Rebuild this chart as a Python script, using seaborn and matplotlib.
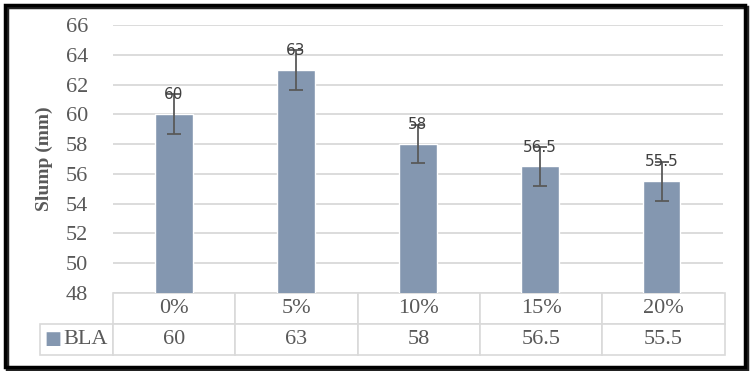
import matplotlib.pyplot as plt
import seaborn as sns
import pandas as pd
from matplotlib.patches import Rectangle

# chart data
categories = ['0%', '5%', '10%', '15%', '20%']
slump = [60, 63, 58, 56.5, 55.5]
errors = [1.35, 1.35, 1.3, 1.3, 1.3]
series_name = 'BLA'

bar_color = '#8497B0'
text_gray = '#595959'
grid_gray = '#D9D9D9'

sns.set_style('white')
plt.rcParams['font.family'] = ['Liberation Serif', 'DejaVu Sans']

W, H = 750, 371
fig = plt.figure(figsize=(7.5, 3.71), dpi=100)
ax = fig.add_axes([113 / W, 78 / H, 609.5 / W, 268 / H])

df = pd.DataFrame({'cat': categories, 'val': slump})
sns.barplot(data=df, x='cat', y='val', color=bar_color, width=0.31,
            saturation=1, errorbar=None, ax=ax, zorder=2)
ax.errorbar(range(len(categories)), slump, yerr=errors, fmt='none',
            ecolor=text_gray, elinewidth=1.3, capsize=5, capthick=1.3, zorder=3)

# value labels
for i, v in enumerate(slump):
    ax.annotate(f'{v:g}', (i, v), xytext=(0, 14), textcoords='offset points',
                ha='center', va='center', fontsize=11, family='DejaVu Sans',
                color='#404040', zorder=4)

ax.set_xlim(-0.5, len(categories) - 0.5)
ax.set_ylim(48, 66)
ax.set_yticks(range(48, 67, 2))
ax.set_xticks([])
ax.grid(axis='y', color=grid_gray, lw=1.3)
ax.set_axisbelow(True)
ax.tick_params(axis='y', length=0, pad=18, labelsize=16, labelcolor=text_gray)
ax.set_xlabel('')
ax.set_ylabel('Slump (mm)', fontweight='bold', fontsize=14, color=text_gray)
ax.yaxis.set_label_coords((53 - 113) / 609.5, 0.5)
sns.despine(ax=ax, left=True, bottom=True)

# data table under the chart
cell_text = [[''] + categories, [''] + [f'{v:g}' for v in slump]]
col_w = [73] + [122.3] * len(categories)
tot = sum(col_w)
tbl = ax.table(cellText=cell_text, colWidths=[c / tot for c in col_w],
               cellLoc='center',
               bbox=[(40 - 113) / 609.5, (293 - 355) / 268, tot / 609.5, 62 / 268])
tbl.auto_set_font_size(False)
tbl.set_fontsize(16)
for (r, c), cell in tbl.get_celld().items():
    cell.set_edgecolor(grid_gray)
    cell.set_linewidth(1.2)
    cell.get_text().set_color(text_gray)
tbl[0, 0].set_edgecolor('none')

# legend key + series name in the row label cell
row_y = (293 - 339) / 268
ax.text((53 - 113) / 609.5, row_y, '■', transform=ax.transAxes, ha='center',
        va='center', fontsize=13, color=bar_color, family='DejaVu Sans')
ax.text((86 - 113) / 609.5, row_y, series_name, transform=ax.transAxes,
        ha='center', va='center', fontsize=16, color=text_gray)

# outer frame with a small shadow on the right/bottom
fig.patches.append(Rectangle((7 / W, 2 / H), 740 / W, 362 / H,
                             transform=fig.transFigure, fill=False,
                             ec='#222222', lw=2.5))
fig.patches.append(Rectangle((5 / W, 4 / H), 740 / W, 362 / H,
                             transform=fig.transFigure, fill=False,
                             ec='black', lw=2.5))

fig.savefig('out.png', dpi=100)
